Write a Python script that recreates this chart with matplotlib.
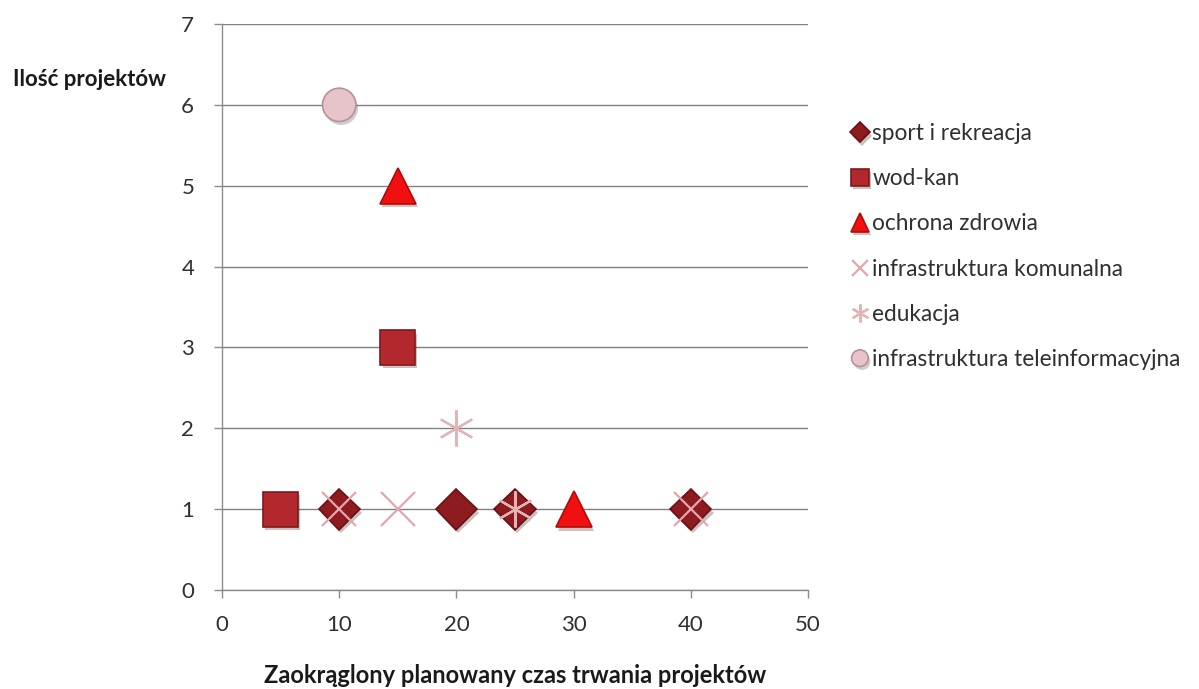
import matplotlib.pyplot as plt
import matplotlib.patheffects as pe

plt.rcParams['font.family'] = ['Lato', 'DejaVu Sans']

# dane: czas trwania (x) i liczba projektów (y) dla każdej kategorii
sport_x = [10, 20, 25, 40]
sport_y = [1, 1, 1, 1]
wodkan_x = [5, 15]
wodkan_y = [1, 3]
zdrowie_x = [15, 30]
zdrowie_y = [5, 1]
komunalna_x = [10, 15, 40]
komunalna_y = [1, 1, 1]
edukacja_x = [20, 25]
edukacja_y = [2, 1]
tele_x = [10]
tele_y = [6]

x_ticks = [0, 10, 20, 30, 40, 50]
y_ticks = [0, 1, 2, 3, 4, 5, 6, 7]

serie = [
    ('sport i rekreacja', sport_x, sport_y, 'D', 21, '#8E1B1F', '#6A1215'),
    ('wod-kan', wodkan_x, wodkan_y, 's', 25, '#B3282C', '#7E1A1C'),
    ('ochrona zdrowia', zdrowie_x, zdrowie_y, '^', 26, '#F01010', '#B00C0C'),
    ('infrastruktura komunalna', komunalna_x, komunalna_y, 'x', 24, '#E3A6AE', '#E3A6AE'),
    ('edukacja', edukacja_x, edukacja_y, (6, 2, 0), 26, '#E2B4B4', '#E2B4B4'),
    ('infrastruktura teleinformacyjna', tele_x, tele_y, 'o', 24, '#E7C3CA', '#B89098'),
]

fig = plt.figure(figsize=(11.99, 6.89), dpi=100)
ax = fig.add_axes([222 / 1199, 1 - 590 / 689, 586 / 1199, 566 / 689])

cien = [pe.SimplePatchShadow(offset=(1.5, -2.5), alpha=0.25), pe.Normal()]

for nazwa, xs, ys, m, ms, kolor, krawedz in serie:
    pelny = m in ('D', 's', '^', 'o')
    ax.plot(xs, ys, linestyle='none', marker=m, markersize=ms,
            markerfacecolor=kolor, markeredgecolor=krawedz,
            markeredgewidth=1.2 if pelny else 1.6,
            label=nazwa, zorder=3, path_effects=cien if pelny else None)

ax.set_xlim(0, 50)
ax.set_ylim(0, 7)
ax.set_xticks(x_ticks)
ax.set_yticks(y_ticks)
ax.grid(axis='y', color='#808080', linewidth=1.0, zorder=0)
ax.set_axisbelow(True)
for s in ('top', 'right'):
    ax.spines[s].set_visible(False)
for s in ('left', 'bottom'):
    ax.spines[s].set_color('#8C8C8C')
    ax.spines[s].set_linewidth(1.0)
ax.tick_params(axis='both', colors='#8C8C8C', labelcolor='#303030',
               labelsize=16, length=6, width=1.0)
ax.tick_params(axis='x', pad=12)
ax.tick_params(axis='y', pad=14)

fig.text(89 / 1199, 1 - 80 / 689, 'Ilość projektów', ha='center', va='center',
         fontsize=16, fontweight='bold', color='#1A1A1A')
fig.text(515 / 1199, 1 - 683 / 689, 'Zaokrąglony planowany czas trwania projektów',
         ha='center', va='baseline', fontsize=17, fontweight='bold', color='#1A1A1A')

leg = ax.legend(loc='upper left', bbox_to_anchor=(852 / 1199, 1 - 123 / 689),
                bbox_transform=fig.transFigure, frameon=False, markerscale=0.5,
                handlelength=0.7, handletextpad=0.2, labelspacing=1.07,
                fontsize=16.3, labelcolor='#303030', borderaxespad=0, borderpad=0)

fig.savefig('out.png', dpi=100)
